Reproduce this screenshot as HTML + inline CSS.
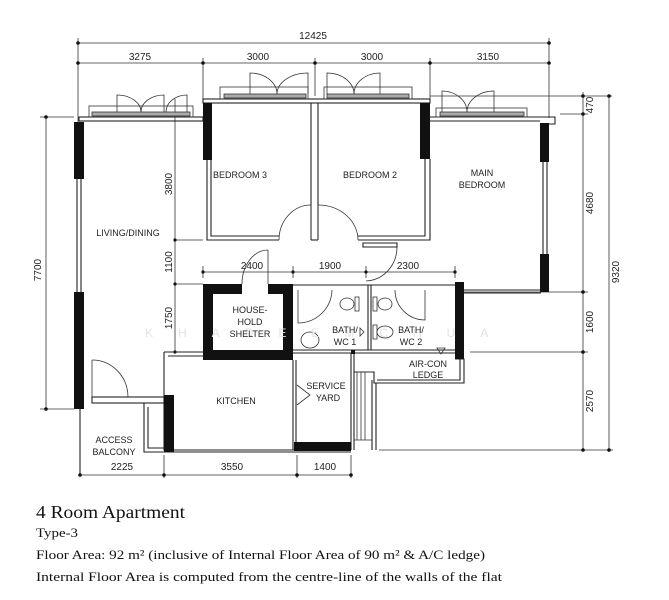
<!DOCTYPE html>
<html><head><meta charset="utf-8"><style>
html,body{margin:0;padding:0;background:#fff;}
svg{display:block;}
.l{fill:none;stroke:#222;stroke-width:1.1}
.t{fill:none;stroke:#333;stroke-width:0.8}
.b{fill:#111;stroke:none}
.lb{font-family:"Liberation Sans",sans-serif;font-size:9px;fill:#222;text-anchor:middle}
.dm{font-family:"Liberation Sans",sans-serif;font-size:10px;fill:#222;text-anchor:middle}
.sf{font-family:"Liberation Serif",serif;fill:#111}
</style></head><body>
<svg width="669" height="600" viewBox="0 0 669 600" xmlns="http://www.w3.org/2000/svg">
<rect width="669" height="600" fill="#fff"/>
<g class="t">
<line x1="78" y1="43" x2="549" y2="43"/>
<line x1="78" y1="63" x2="549" y2="63"/>
<line x1="78" y1="38" x2="78" y2="125"/>
<line x1="549" y1="38" x2="549" y2="118"/>
<line x1="203" y1="58" x2="203" y2="99"/>
<line x1="315" y1="58" x2="315" y2="96"/>
<line x1="430" y1="58" x2="430" y2="99"/>
</g>
<g fill="#111">
<circle cx="78" cy="43" r="1.8"/><circle cx="549" cy="43" r="1.8"/>
<circle cx="78" cy="63" r="1.8"/><circle cx="203" cy="63" r="1.8"/><circle cx="315" cy="63" r="1.8"/><circle cx="430" cy="63" r="1.8"/><circle cx="549" cy="63" r="1.8"/>
</g>
<text class="dm" x="313" y="39">12425</text>
<text class="dm" x="140" y="60">3275</text>
<text class="dm" x="258" y="60">3000</text>
<text class="dm" x="372" y="60">3000</text>
<text class="dm" x="488" y="60">3150</text>

<g class="t">
<line x1="583" y1="92" x2="583" y2="450"/>
<line x1="609" y1="96" x2="609" y2="452"/>
<line x1="430" y1="96" x2="612" y2="96"/>
<line x1="560" y1="114" x2="588" y2="114"/>
<line x1="464" y1="292" x2="588" y2="292"/>
<line x1="470" y1="352" x2="588" y2="352"/>
<line x1="379" y1="450" x2="613" y2="450"/>
</g>
<g fill="#111">
<circle cx="583" cy="96" r="1.8"/><circle cx="609" cy="96" r="1.8"/><circle cx="583" cy="114" r="1.8"/>
<circle cx="583" cy="292" r="1.8"/><circle cx="583" cy="352" r="1.8"/><circle cx="583" cy="450" r="1.8"/><circle cx="609" cy="450" r="1.8"/>
</g>
<text class="dm" transform="translate(593,105) rotate(-90)">470</text>
<text class="dm" transform="translate(593,203) rotate(-90)">4680</text>
<text class="dm" transform="translate(619,272) rotate(-90)">9320</text>
<text class="dm" transform="translate(593,322) rotate(-90)">1600</text>
<text class="dm" transform="translate(593,401) rotate(-90)">2570</text>

<g class="t">
<line x1="46" y1="117" x2="46" y2="409"/>
<line x1="40" y1="117" x2="74" y2="117"/>
<line x1="40" y1="409" x2="74" y2="409"/>
</g>
<circle cx="46" cy="117" r="1.8" fill="#111"/><circle cx="46" cy="409" r="1.8" fill="#111"/>
<text class="dm" transform="translate(41,270) rotate(-90)">7700</text>

<g class="t">
<line x1="175" y1="99" x2="175" y2="352"/>
<line x1="175" y1="240" x2="203" y2="240"/>
<line x1="175" y1="284" x2="203" y2="284"/>
<line x1="203" y1="272" x2="455" y2="272"/>
<line x1="203" y1="266" x2="203" y2="278"/>
<line x1="293" y1="266" x2="293" y2="278"/>
<line x1="366" y1="266" x2="366" y2="278"/>
<line x1="455" y1="266" x2="455" y2="278"/>
</g>
<g fill="#111"><circle cx="175" cy="240" r="1.6"/><circle cx="175" cy="284" r="1.6"/><circle cx="175" cy="352" r="1.6"/>
<circle cx="203" cy="272" r="1.6"/><circle cx="293" cy="272" r="1.6"/><circle cx="366" cy="272" r="1.6"/><circle cx="455" cy="272" r="1.6"/></g>
<text class="dm" transform="translate(172,184) rotate(-90)">3800</text>
<text class="dm" transform="translate(172,262) rotate(-90)">1100</text>
<text class="dm" transform="translate(172,318) rotate(-90)">1750</text>
<text class="dm" x="252" y="269">2400</text>
<text class="dm" x="330" y="269">1900</text>
<text class="dm" x="408" y="269">2300</text>

<g class="l">
<rect x="79" y="117" width="124" height="4"/>
<rect x="203" y="99" width="227" height="4"/>
<path d="M430 117 H555 V124 H549"/>
<line x1="430" y1="121" x2="540" y2="121"/>
<line x1="77" y1="179" x2="77" y2="292"/><line x1="81" y1="179" x2="81" y2="292"/>
<path d="M207 160 V240 H279"/><path d="M211 160 V236 H279"/>
<line x1="311" y1="103" x2="311" y2="240"/><line x1="318" y1="103" x2="318" y2="240"/>
<line x1="311" y1="240" x2="318" y2="240"/>
<path d="M358 240 H430 V159"/><path d="M358 236 H425 V159"/>
<path d="M363 243 H397 V247 H363 Z"/>
<line x1="543" y1="162" x2="543" y2="254"/><line x1="547" y1="162" x2="547" y2="254"/>
<line x1="464" y1="290" x2="541" y2="290"/><line x1="464" y1="293" x2="541" y2="293"/>
<path d="M293 285 H455"/>
<path d="M293 350 H455"/><path d="M293 353 H464"/>
<line x1="368" y1="285" x2="368" y2="350"/><line x1="371" y1="285" x2="371" y2="350"/>
<path d="M455 359 H464 V383 H374 V372 H354"/>
<path d="M460 359 V380 H377"/>
<path d="M164 352 H203"/><path d="M164 352 V450 H351"/>
<path d="M168 356 H203"/>
<line x1="293" y1="360" x2="293" y2="450"/><line x1="296" y1="360" x2="296" y2="450"/>
<line x1="351" y1="353" x2="351" y2="450"/><line x1="354" y1="353" x2="354" y2="450"/>
<line x1="372" y1="380" x2="372" y2="450"/><line x1="376" y1="383" x2="376" y2="450"/>
<rect x="92" y="397" width="72" height="6"/>
<path d="M144 403 V452 H351"/><path d="M148 407 V448 H164"/>
<line x1="80" y1="409" x2="80" y2="475"/>
</g>
<g class="t"><line x1="357" y1="372" x2="357" y2="440"/><line x1="361" y1="372" x2="361" y2="440"/><line x1="365" y1="372" x2="365" y2="440"/><line x1="354" y1="440" x2="372" y2="440"/><line x1="354" y1="372" x2="372" y2="372"/></g>

<rect class="b" x="74" y="122" width="10" height="57"/>
<rect class="b" x="74" y="292" width="10" height="117"/>
<rect class="b" x="203" y="103" width="9" height="57"/>
<rect class="b" x="420" y="103" width="10" height="56"/>
<rect class="b" x="540" y="123" width="9" height="39"/>
<rect class="b" x="540" y="254" width="9" height="38"/>
<rect class="b" x="455" y="282" width="9" height="77"/>
<path class="b" d="M203 284 H242 V294 H213 V350 H283 V294 H268 V284 H293 V360 H203 Z"/>
<rect class="b" x="164" y="395" width="10" height="57"/>
<rect class="b" x="294" y="442" width="57" height="9"/>
<rect class="b" x="351" y="350" width="4" height="4"/>

<g class="t">
<path d="M311 205 V240"/><path d="M279 240 A32 35 0 0 1 311 205"/>
<path d="M318 205 V240"/><path d="M318 205 A40 35 0 0 1 358 240"/>
<path d="M397 247 A32 34 0 0 1 366 281"/>
<path d="M268 284 V250"/><path d="M242 284 A26 34 0 0 1 268 250"/>
<path d="M92 360 V397"/><path d="M92 360 A36 37 0 0 1 128 397"/>
<path d="M298 290 V323 A34 34 0 0 0 332 290"/>
<path d="M395 290 A30 30 0 0 0 425 320 V290"/>
</g>
<g class="t">
<ellipse cx="347" cy="304" rx="7" ry="6"/><rect x="355" y="297" width="4" height="14"/>
<ellipse cx="385" cy="304" rx="7" ry="6"/><rect x="373" y="297" width="4" height="14"/>
<ellipse cx="385" cy="332" rx="8" ry="6"/><rect x="373" y="325" width="4" height="14"/>
<ellipse cx="310" cy="340" rx="9" ry="8"/>
<path d="M360 328 L364 332 L360 336 Z"/>
<path d="M437 348 L445 348 L441 354 Z"/>
<path d="M297 385 L310 395 L297 405"/>
</g>

<g class="t">
<rect x="89" y="106" width="104" height="11"/><rect x="92" y="112" width="98" height="4" fill="#aaa"/>
<path d="M117 112 V95 A24 17 0 0 1 141 112"/><path d="M141 112 A23 17 0 0 1 164 95 V112"/><path d="M166 112 A21 17 0 0 1 187 95 V112"/>
<rect x="220" y="87" width="88" height="12"/><rect x="224" y="94" width="82" height="4" fill="#aaa"/>
<path d="M250 94 V73 A27 21 0 0 1 277 94"/><path d="M277 94 A31 21 0 0 1 308 73 V94"/>
<rect x="324" y="87" width="88" height="12"/><rect x="327" y="94" width="82" height="4" fill="#aaa"/>
<path d="M327 94 V73 A27 21 0 0 1 354 94"/><path d="M354 94 A26 21 0 0 1 380 73 V94"/>
<rect x="436" y="108" width="91" height="9"/><rect x="440" y="112" width="84" height="4" fill="#aaa"/>
<path d="M442 112 V91 A25 21 0 0 1 467 112"/><path d="M467 112 A27 21 0 0 1 494 91 V112"/>
</g>

<g class="t"><line x1="80" y1="475" x2="351" y2="475"/>
<line x1="164" y1="455" x2="164" y2="478"/><line x1="297" y1="455" x2="297" y2="478"/><line x1="351" y1="455" x2="351" y2="478"/></g>
<g fill="#111"><circle cx="80" cy="475" r="1.8"/><circle cx="164" cy="475" r="1.8"/><circle cx="297" cy="475" r="1.8"/><circle cx="351" cy="475" r="1.8"/></g>
<text class="dm" x="122" y="470">2225</text>
<text class="dm" x="232" y="470">3550</text>
<text class="dm" x="325" y="470">1400</text>

<text x="145" y="337" font-family="Liberation Sans,sans-serif" font-size="12" fill="#e2e2e2" letter-spacing="25">KHADEEMCHUA</text>
<text class="lb" x="240" y="178">BEDROOM 3</text>
<text class="lb" x="370" y="178">BEDROOM 2</text>
<text class="lb" x="482" y="176">MAIN</text><text class="lb" x="482" y="188">BEDROOM</text>
<text class="lb" x="128" y="236">LIVING/DINING</text>
<text class="lb" x="250" y="313">HOUSE-</text><text class="lb" x="250" y="325">HOLD</text><text class="lb" x="250" y="337">SHELTER</text>
<text class="lb" x="345" y="333">BATH/</text><text class="lb" x="345" y="345">WC 1</text>
<text class="lb" x="411" y="333">BATH/</text><text class="lb" x="411" y="345">WC 2</text>
<text class="lb" x="428" y="367">AIR-CON</text><text class="lb" x="428" y="378">LEDGE</text>
<text class="lb" x="326" y="389">SERVICE</text><text class="lb" x="328" y="401">YARD</text>
<text class="lb" x="236" y="404">KITCHEN</text>
<text class="lb" x="114" y="443">ACCESS</text><text class="lb" x="114" y="455">BALCONY</text>

<text class="sf" x="36" y="518" font-size="18" textLength="149" lengthAdjust="spacingAndGlyphs">4 Room Apartment</text>
<text class="sf" x="36" y="537" font-size="13" textLength="42" lengthAdjust="spacingAndGlyphs">Type-3</text>
<text class="sf" x="36" y="559" font-size="13" textLength="449" lengthAdjust="spacingAndGlyphs">Floor Area: 92 m² (inclusive of Internal Floor Area of 90 m² &amp; A/C ledge)</text>
<text class="sf" x="36" y="581" font-size="13" textLength="466" lengthAdjust="spacingAndGlyphs">Internal Floor Area is computed from the centre-line of the walls of the flat</text>
</svg>
</body></html>
